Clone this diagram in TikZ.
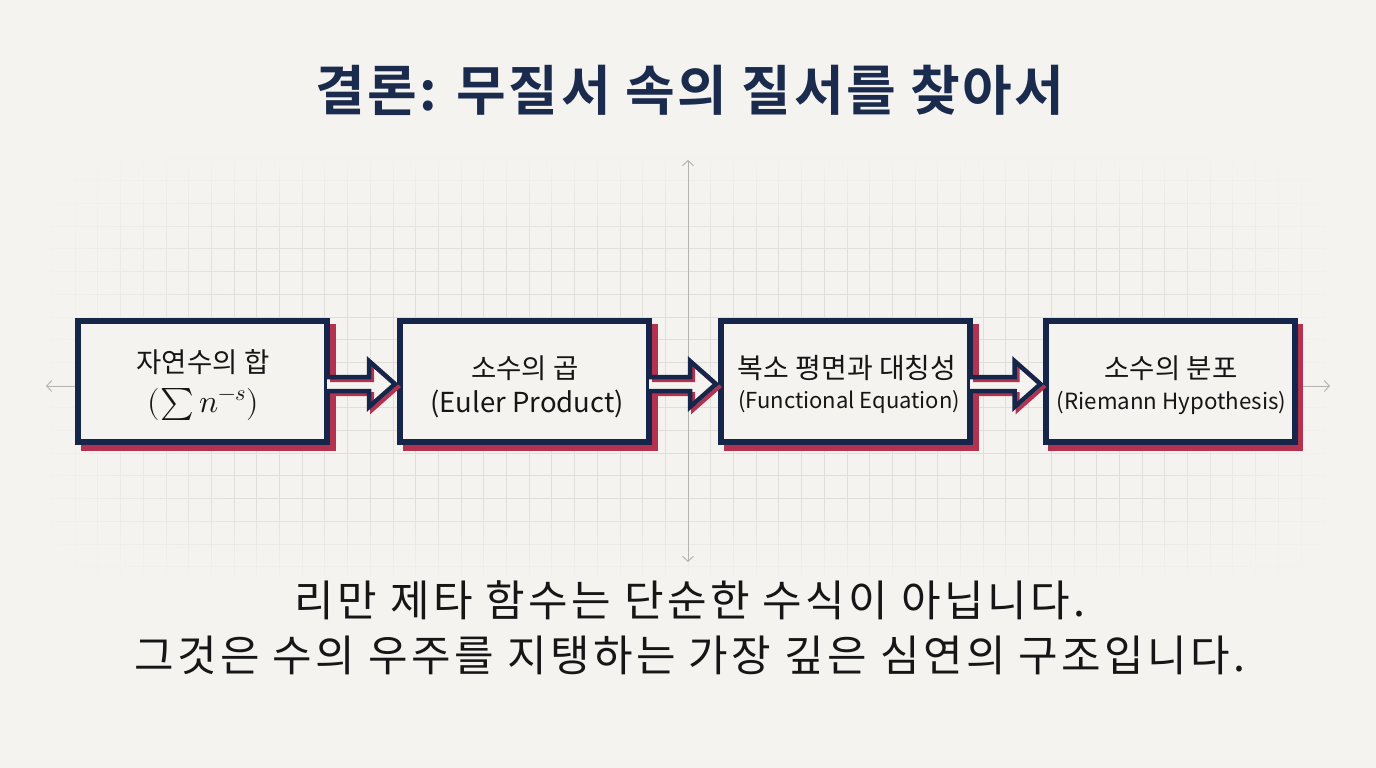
\documentclass[tikz,border=0pt]{standalone}
\usepackage{fontspec}
\usepackage{unicode-math}
\setmathfont{Latin Modern Math}
\newfontfamily\kr{Noto Sans CJK KR}
\newfontfamily\krsp{Noto Sans CJK KR}[LetterSpace=8]
\newfontfamily\krb{Noto Sans CJK KR Bold}[LetterSpace=4.5]
\usetikzlibrary{arrows.meta,fadings,calc}
\definecolor{bgc}{HTML}{F4F3EF}
\definecolor{gridc}{HTML}{DFDED9}
\definecolor{axisc}{HTML}{B4B4B2}
\definecolor{navy}{HTML}{15264A}
\definecolor{titlec}{HTML}{1A2B4D}
\definecolor{shadred}{HTML}{B3324F}
\definecolor{txtc}{HTML}{161616}
\tikzfading[name=fadeR, left color=transparent!0, right color=transparent!100]
\tikzfading[name=fadeL, left color=transparent!100, right color=transparent!0]
\tikzfading[name=fadeD, top color=transparent!0, bottom color=transparent!100]
\tikzfading[name=fadeU, top color=transparent!100, bottom color=transparent!0]
\pgfdeclarelayer{gridl}
\pgfdeclarelayer{shad}
\pgfsetlayers{gridl,shad,main}
\tikzset{
  gridline/.style={gridc, line width=0.8pt},
  axisline/.style={axisc, line width=1pt, {Straight Barb[length=5pt,width=11pt]}-{Straight Barb[length=5pt,width=11pt]}},
  mbox/.style={draw=navy, line width=6pt, fill=bgc, minimum width=249pt, minimum height=121pt, inner sep=0pt},
  krtxt/.style={text=txtc, inner sep=0pt, font=\kr\fontsize{27.5}{32}\selectfont},
  lattxt/.style={text=txtc, inner sep=0pt, font=\kr\fontsize{22}{28}\selectfont},
  arrfill/.style={fill=bgc},
  arrshad/.style={draw=shadred, line width=4pt, line join=miter},
  arrline/.style={draw=navy, line width=4.5pt, line join=miter},
}
\newcommand{\blockarr}[2]{%
  \fill[arrfill] ($(#1.east)+(-3,-4.5)$) -- ($(#2.west)+(-28,-4.5)$) -- ($(#2.west)+(-28,-20.5)$)
    -- ($(#2.west)+(-2,2.5)$) -- ($(#2.west)+(-28,25.5)$) -- ($(#2.west)+(-28,9.5)$) -- ($(#1.east)+(-3,9.5)$) -- cycle;
  \draw[arrshad] ($(#1.east)+(0,-1.5)$) -- ($(#2.west)+(-25,-1.5)$) -- ($(#2.west)+(-25,-17.5)$)
    -- ($(#2.west)+(1,5.5)$) -- ($(#2.west)+(-25,28.5)$) -- ($(#2.west)+(-25,12.5)$) -- ($(#1.east)+(0,12.5)$);
  \draw[arrline] ($(#1.east)+(-3,-4.5)$) -- ($(#2.west)+(-28,-4.5)$) -- ($(#2.west)+(-28,-20.5)$)
    -- ($(#2.west)+(-2,2.5)$) -- ($(#2.west)+(-28,25.5)$) -- ($(#2.west)+(-28,9.5)$) -- ($(#1.east)+(-3,9.5)$);
}
\begin{document}
\begin{tikzpicture}[x=1pt,y=-1pt]
\useasboundingbox (0,0) rectangle (1376,768);
\begin{pgfonlayer}{gridl}
  \fill[bgc] (0,0) rectangle (1376,768);
  \foreach \i in {-28,...,28} \draw[gridline] ({688+\i*22.7},158) -- ({688+\i*22.7},576);
  \foreach \j in {-10,...,8} \draw[gridline] (42,{385+\j*22.7}) -- (1334,{385+\j*22.7});
  \fill[bgc, path fading=fadeR] (38,150) rectangle (250,584);
  \fill[bgc, path fading=fadeL] (1126,150) rectangle (1338,584);
  \fill[bgc, path fading=fadeD] (38,150) rectangle (1338,260);
  \fill[bgc, path fading=fadeU] (38,500) rectangle (1338,584);
  \coordinate (vtop) at (688,160);
  \coordinate (vbot) at (688,562);
  \coordinate (hl) at (46,386);
  \coordinate (hr) at (1330,386);
  \draw[axisline] (vbot) -- (vtop);
  \draw[axisline] (hl) -- (hr);
\end{pgfonlayer}

\node[font=\krb\fontsize{54}{60}\selectfont, text=titlec] (title) at (690,90) {결론: 무질서 속의 질서를 찾아서};

\node[mbox] (b1) at (202.5,381.5) {};
\node[mbox] (b2) at (524.5,381.5) {};
\node[mbox] (b3) at (845.5,381.5) {};
\node[mbox] (b4) at (1170,381.5) {};

\node[krtxt] (t1a) at (203,362) {자연수의 합};
\node[text=txtc, inner sep=0pt, anchor=base, font=\fontsize{32}{36}\selectfont] (t1b) at (203.5,412.5) {$(\sum n^{-s})$};
\node[krtxt] (t2a) at (525,368) {소수의 곱};
\node[krtxt] (t2b) at (527,404) {(Euler Product)};
\node[krtxt, font=\kr\fontsize{28}{32}\selectfont] (t3a) at (847,368) {복소 평면과 대칭성};
\node[lattxt] (t3b) at (849,402) {(Functional Equation)};
\node[krtxt] (t4a) at (1171,368) {소수의 분포};
\node[lattxt, font=\kr\fontsize{22.3}{28}\selectfont] (t4b) at (1171.5,403) {(Riemann Hypothesis)};

\begin{pgfonlayer}{shad}
  \foreach \b in {b1,b2,b3,b4}
    \fill[shadred] ($(\b.north west)+(5.5,5.5)$) rectangle ($(\b.south east)+(5.5,5.5)$);
\end{pgfonlayer}

\blockarr{b1}{b2}
\blockarr{b2}{b3}
\blockarr{b3}{b4}

\node[font=\krsp\fontsize{43}{55}\selectfont, text=txtc, align=center] (sub) at (690,628)
  {리만 제타 함수는 단순한 수식이 아닙니다.\\그것은 수의 우주를 지탱하는 가장 깊은 심연의 구조입니다.};
\end{tikzpicture}
\end{document}
